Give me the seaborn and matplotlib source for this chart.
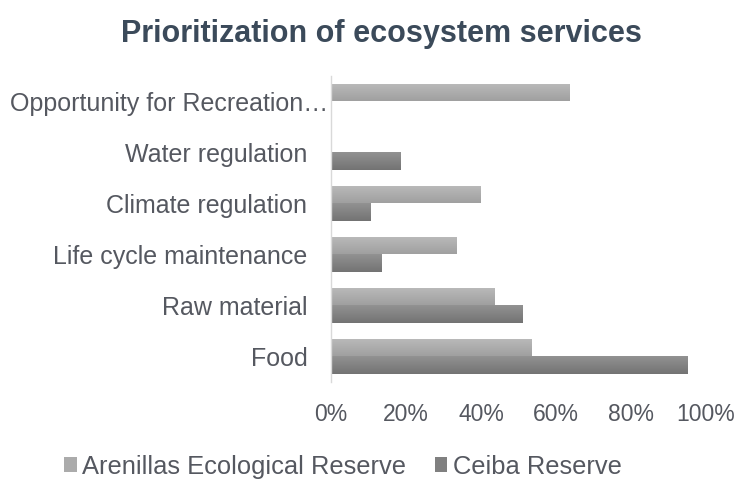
import matplotlib
matplotlib.use("Agg")
import matplotlib.pyplot as plt
import matplotlib.transforms as mtransforms
import seaborn as sns
import pandas as pd
import numpy as np
from matplotlib.ticker import FuncFormatter
from matplotlib.patches import Patch
from matplotlib.colors import LinearSegmentedColormap, to_rgb

categories = [
    "Opportunity for Recreation\u2026",
    "Water regulation",
    "Climate regulation",
    "Life cycle maintenance",
    "Raw material",
    "Food",
]
series_names = ["Arenillas Ecological Reserve", "Ceiba Reserve"]
arenillas = [63.5, 0, 40, 33.5, 43.5, 53.5]
ceiba = [0, 18.5, 10.5, 13.5, 51, 95]
x_ticks = [0, 20, 40, 60, 80, 100]

colors = ["#ababab", "#808080"]
# light (top) and dark (bottom) shades for the bar fill gradient
shades = [("#bababa", "#a0a0a0"), ("#929292", "#737373")]

df = pd.DataFrame({
    "service": categories * 2,
    "reserve": [series_names[0]] * len(categories) + [series_names[1]] * len(categories),
    "share": arenillas + ceiba,
})

sns.set_theme(style="white")
plt.rcParams["font.family"] = ["Liberation Sans", "DejaVu Sans"]

fig = plt.figure(figsize=(7.36, 4.82), dpi=100)
ax = fig.add_axes([0.4497, 0.2075, 0.5095, 0.635])

sns.barplot(
    data=df, y="service", x="share", hue="reserve",
    order=categories, hue_order=series_names,
    palette=colors, width=0.67, orient="h", ax=ax,
    legend=False, saturation=1, edgecolor="none",
)

ax.set_xlim(0, 100)
ax.set_xticks(x_ticks)
ax.xaxis.set_major_formatter(FuncFormatter(lambda v, p: f"{v:.0f}%"))
ylim = ax.get_ylim()

# vertical gradient fill inside each bar
n = len(categories)
for i, patch in enumerate(ax.patches[: 2 * n]):
    w = patch.get_width()
    if w <= 0:
        continue
    top, bot = shades[i // n]
    cmap = LinearSegmentedColormap.from_list("g", [to_rgb(top), to_rgb(bot)])
    y0 = patch.get_y()
    h = patch.get_height()
    grad = np.linspace(0, 1, 64).reshape(-1, 1)
    im = ax.imshow(grad, cmap=cmap, aspect="auto", interpolation="bicubic",
                   extent=(0, w, y0 + h, y0), origin="upper", zorder=patch.get_zorder() + 0.1)
    im.set_clip_path(patch)

ax.set_xlim(0, 100)
ax.set_ylim(ylim)
ax.set_xlabel("")
ax.set_ylabel("")
for s in ["top", "right", "bottom"]:
    ax.spines[s].set_visible(False)
ax.spines["left"].set_color("#d9d9d9")
ax.spines["left"].set_linewidth(1.0)
ax.spines["left"].set_zorder(5)
ax.tick_params(axis="both", length=0, colors="#555860")
ax.tick_params(axis="y", pad=17, labelsize=18)
ax.tick_params(axis="x", pad=15, labelsize=16.5)
ax.grid(False)

# the truncated first label runs a little past the others
first = ax.get_yticklabels()[0]
first.set_transform(first.get_transform() +
                    mtransforms.ScaledTranslation(0.21, 0, fig.dpi_scale_trans))

fig.suptitle("Prioritization of ecosystem services", x=0.518, y=0.96,
             fontsize=22, fontweight="bold", color="#3b4a5a")

handles = [Patch(facecolor=c, edgecolor="none") for c in colors]
fig.legend(handles, series_names, loc="center", bbox_to_anchor=(0.466, 0.032),
           ncol=2, frameon=False, fontsize=18.4, labelcolor="#555860",
           handlelength=0.5, handleheight=0.5, handletextpad=0.23,
           columnspacing=1.1)

fig.savefig("out.png", dpi=100, facecolor="white")
